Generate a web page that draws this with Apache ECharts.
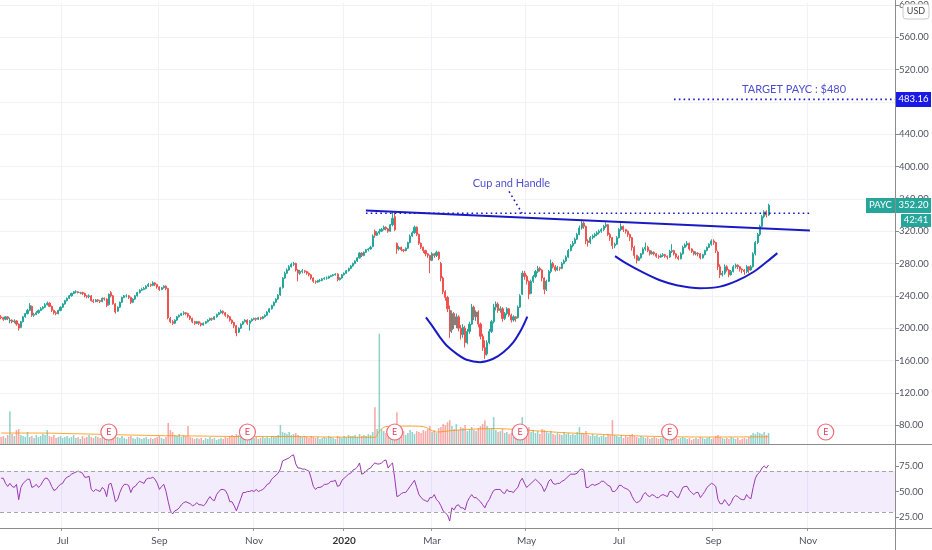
<!DOCTYPE html>
<html><head><meta charset="utf-8">
<script src="https://cdn.jsdelivr.net/npm/echarts@6/dist/echarts.min.js"></script>
<style>html,body{margin:0;padding:0;background:#fff}#c{width:932px;height:550px}</style>
</head><body><div id="c"></div>
<script>
// ---------- data ----------
const START_DATE = '2019-05-21';
const HOLIDAYS = ['2019-05-27','2019-07-04','2019-09-02','2019-11-28','2019-12-25','2020-01-01','2020-01-20','2020-02-17','2020-04-10','2020-05-25','2020-07-03','2020-09-07','2020-11-26','2020-12-25'];
const TOTAL_SLOTS = 407;
const MONTHS = ['Jan','Feb','Mar','Apr','May','Jun','Jul','Aug','Sep','Oct','Nov','Dec'];
const priceTicks = [80,120,160,200,240,280,320,360,400,440,480,520,560,600];
const rsiTicks = [25,50,75];

// [open, close, low, high]
const ohlc = [
[214,213,211,216],[213,211,209,214],[211,214,210,215],[214,212,210,215],[209,210,206,213],[210,208,206,211],[208,209,206,211],[209,205,203,210],[205,200,197,206],[201,208,200,209],
[208,214,207,215],[214,218,213,219],[218,222,217,224],[222,228,221,231],[227,216,214,228],[216,217,214,219],[217,219,216,221],[219,222,218,223],[222,224,221,226],[224,226,223,227],
[226,229,225,231],[229,231,228,233],[231,227,226,232],[227,222,220,228],[222,219,217,223],[219,218,216,221],[218,222,217,223],[222,226,221,227],[226,230,225,231],[230,234,229,235],
[234,237,233,238],[237,240,236,241],[240,243,239,244],[243,245,242,246],[245,245,243,247],[245,244,243,246],[244,244,242,245],[244,243,241,245],[243,240,238,244],[240,239,237,241],
[239,240,237,242],[240,234,233,241],[234,233,231,236],[233,235,232,236],[235,234,232,236],[234,233,231,235],[233,237,232,238],[237,236,234,238],[236,228,226,237],[229,242,228,243],
[244,240,238,246],[240,230,229,241],[230,220,218,231],[221,226,220,227],[226,232,225,233],[232,238,231,239],[238,240,237,241],[240,240,238,242],[240,238,236,241],[238,232,230,239],
[232,236,231,237],[236,240,235,241],[240,244,239,245],[244,247,243,248],[247,248,246,250],[248,249,247,251],[249,252,248,253],[252,254,251,256],[254,253,251,255],[253,256,252,258],
[256,254,252,257],[254,251,249,255],[251,248,246,252],[248,250,247,251],[250,252,249,253],[252,249,247,253],[249,213,211,250],[212,208,206,214],[208,206,204,210],[206,210,205,211],
[210,214,209,215],[214,216,213,217],[216,218,215,219],[218,219,216,221],[219,218,216,220],[218,215,213,219],[215,212,210,216],[212,208,206,213],[208,206,204,209],[206,208,205,209],
[208,206,204,209],[206,204,202,207],[204,206,203,207],[206,208,205,209],[208,210,207,211],[210,212,209,213],[212,211,209,213],[211,214,210,215],[214,217,213,218],[217,219,216,220],
[219,221,218,223],[221,219,217,222],[219,216,214,220],[216,214,212,217],[214,210,208,215],[210,207,205,211],[207,203,200,208],[203,194,190,204],[195,200,194,201],[200,205,199,206],
[205,208,204,209],[208,210,207,211],[210,206,204,211],[206,209,197,210],[209,211,208,212],[211,212,210,213],[212,211,209,213],[211,213,210,214],[213,212,210,214],[212,214,211,215],
[214,216,213,217],[216,220,215,221],[220,224,219,225],[224,228,223,229],[228,232,227,233],[232,236,231,237],[236,241,235,242],[241,250,240,251],[250,262,249,263],[262,268,261,270],
[268,272,267,274],[272,276,271,278],[276,279,275,281],[279,280,277,282],[280,272,270,281],[272,268,258,273],[268,270,266,272],[270,271,268,273],[271,270,268,272],[270,268,266,271],
[268,266,264,269],[266,262,260,267],[262,258,256,263],[258,257,255,259],[257,259,256,260],[259,259,257,261],[259,261,258,262],[261,262,260,263],[262,262,260,264],[262,264,261,265],
[264,265,263,266],[265,266,264,267],[266,267,265,268],[267,260,258,268],[260,262,259,263],[262,266,261,267],[266,268,265,269],[268,271,267,272],[271,274,270,275],[274,277,273,278],
[277,280,276,281],[280,283,279,284],[283,287,282,288],[287,293,286,294],[293,290,288,294],[290,294,289,295],[294,297,293,298],[297,298,295,299],[298,300,297,302],[301,314,300,316],
[320,315,312,322],[315,318,314,320],[318,320,316,323],[320,322,319,324],[322,325,321,327],[325,323,321,326],[323,320,318,324],[320,328,319,329],[328,336,326,345],[338,322,320,343],
[305,298,292,306],[298,300,296,302],[300,297,295,301],[297,296,294,298],[296,299,295,300],[299,306,298,307],[306,314,305,316],[314,318,313,320],[318,325,317,327],[325,316,314,326],
[316,305,303,317],[305,300,298,306],[300,296,293,301],[296,292,289,297],[292,290,287,293],[290,284,268,291],[284,292,283,294],[292,290,287,293],[290,294,288,296],[294,286,284,295],
[280,262,258,282],[262,245,242,264],[245,238,234,247],[238,224,220,240],[222,196,188,228],[198,218,194,222],[218,204,199,220],[204,214,200,218],[214,200,196,216],[200,192,186,204],
[192,201,188,205],[200,182,176,203],[182,196,180,199],[196,205,193,208],[205,226,204,230],[226,214,210,228],[214,220,209,222],[220,205,201,222],[205,190,186,207],[190,176,172,193],
[176,167,162,185],[168,182,166,185],[182,196,180,199],[196,208,194,210],[208,226,206,230],[226,230,222,233],[230,222,219,232],[222,224,219,227],[224,212,208,226],[212,218,210,220],
[218,224,216,226],[224,216,214,225],[216,210,207,218],[210,214,208,216],[214,212,208,215],[213,226,212,228],[226,240,225,242],[242,268,241,271],[268,264,260,271],[264,258,254,266],
[258,242,236,259],[243,258,242,260],[258,264,256,266],[264,270,262,272],[270,274,268,277],[274,272,270,276],[272,262,258,273],[262,248,242,263],[248,258,246,260],[258,270,257,272],
[270,280,268,285],[280,276,274,282],[276,272,270,278],[272,275,271,277],[275,274,271,276],[274,280,273,282],[280,283,279,285],[283,288,282,290],[288,296,287,298],[296,302,295,304],
[302,305,300,308],[305,310,304,312],[310,316,309,318],[316,324,315,327],[324,330,322,334],[330,326,323,332],[326,308,304,327],[308,306,301,310],[306,312,304,314],[312,314,310,316],
[314,316,312,318],[316,318,314,320],[318,320,316,322],[320,322,318,324],[322,326,320,328],[326,328,324,331],[328,316,314,329],[316,312,308,318],[312,302,298,313],[302,304,299,306],
[304,312,303,314],[312,322,311,324],[322,326,320,330],[326,322,319,327],[322,320,317,323],[320,316,313,321],[316,312,308,317],[312,300,296,313],[300,290,286,302],[290,284,280,291],
[284,287,283,289],[287,292,286,293],[292,298,291,300],[298,300,296,306],[300,296,294,302],[296,292,290,297],[292,294,291,296],[294,292,290,295],[292,289,287,293],[289,288,286,291],
[288,290,287,292],[290,291,288,293],[291,289,287,292],[289,288,285,290],[288,295,287,297],[295,296,293,304],[296,292,290,297],[292,288,286,293],[288,286,284,290],[286,292,285,294],
[292,300,291,302],[300,303,299,305],[303,305,301,308],[305,298,296,306],[298,295,293,299],[295,292,290,296],[292,293,290,295],[293,292,289,294],[292,287,285,293],[287,291,286,292],
[291,296,290,297],[296,300,295,301],[300,304,299,305],[304,308,302,310],[308,306,303,310],[306,296,293,307],[294,276,272,296],[276,266,262,279],[266,268,264,271],[268,276,266,279],
[276,272,270,278],[272,266,263,273],[266,270,265,272],[270,276,269,278],[276,278,274,280],[278,276,273,279],[276,273,270,277],[273,272,268,274],[272,270,266,273],[270,276,268,278],
[276,272,268,277],[272,276,271,278],[276,292,275,294],[292,306,290,308],[306,316,304,318],[316,326,314,328],[326,338,325,340],[338,344,336,346],[344,340,337,346],[340,352,339,354]
];

// volume, thousands of shares
const volume = [
280,320,240,360,1320,400,320,560,600,360, 320,280,480,280,320,240,360,280,320,400,
360,560,320,280,360,240,280,320,240,280, 320,240,280,360,240,280,200,320,240,280,
360,280,240,320,280,240,320,280,360,480, 400,360,440,280,240,320,240,200,280,320,
240,200,280,240,200,240,280,200,240,200, 240,280,320,240,200,280,840,560,480,360,
320,400,280,360,320,720,280,240,200,240, 200,240,160,240,200,280,200,240,160,200,
240,200,280,240,320,360,320,400,360,280, 320,360,480,400,320,240,280,200,240,280,
240,280,240,320,280,320,360,760,480,440, 400,480,360,400,440,360,320,280,320,280,
240,320,280,240,280,200,240,280,240,320, 280,240,200,320,280,240,320,280,360,320,
320,360,280,400,320,360,320,400,360,480, 1480,600,4440,600,520,440,640,560,560,680,
1280,480,400,520,360,440,560,480,400,520, 480,440,560,520,600,720,480,560,440,640,
680,800,760,880,960,720,600,800,560,680, 640,760,520,600,680,560,520,640,720,800,
960,720,600,640,1080,560,480,520,600,440, 480,400,440,520,480,560,640,1080,600,520,
680,480,560,440,520,400,600,560,480,440, 520,400,360,440,400,360,480,400,440,360,
400,360,480,680,440,400,520,360,320,400, 320,360,280,320,360,280,400,360,960,360,
320,280,360,240,320,280,360,400,320,280, 240,320,280,240,280,200,240,280,240,200,
240,280,200,240,440,320,280,240,200,240, 280,240,200,240,160,200,240,200,280,240,
200,240,280,200,240,320,360,280,240,200, 240,200,280,240,200,240,160,200,240,200,
280,360,440,400,480,440,400,480,360,440
];
const volMaIdx = [0,20,30,50,70,90,110,130,150,170,172,175,185,192,198,205,215,225,235,245,255,270,285,300,320,349];
const volMaVal = [440,440,420,380,340,320,300,300,280,270,520,700,720,700,480,540,600,620,580,520,460,400,340,300,280,290];

const rsi = [
63,63,58,55,58,55,54,57,42,54, 58,60,62,62,54,55,57,54,56,60,
63,63,60,55,51,52,55,57,58,62, 64,65,67,68,69,70,69,68,64,64,
65,52,50,52,51,50,54,52,45,57, 58,50,40,42,49,54,57,57,56,49,
54,55,58,60,59,58,62,63,63,64, 62,58,52,55,57,50,40,31,28,31,
32,34,37,39,40,39,38,36,37,39, 37,37,36,38,42,45,42,41,47,50,
52,52,51,47,40,40,36,31,37,43, 49,49,50,50,51,50,52,50,51,52,
54,57,58,62,64,66,68,72,80,81, 82,83,85,86,77,73,73,72,72,71,
70,63,55,52,54,54,55,57,57,58, 60,60,61,55,56,61,63,65,67,68,
71,72,74,78,67,68,70,72,73,76, 78,77,77,78,80,81,73,76,78,63,
45,46,48,49,49,52,55,58,61,54, 47,44,42,41,40,44,44,47,42,40,
36,31,29,27,21,34,32,36,37,34, 34,32,40,44,47,44,44,42,40,37,
34,39,42,47,51,52,52,52,49,48, 52,50,50,49,52,54,60,63,58,54,
56,58,60,62,60,58,55,50,54,60, 62,58,57,58,58,60,61,63,65,67,
67,67,68,71,72,71,54,54,56,57, 56,57,58,60,60,58,56,55,50,50,
52,56,56,54,53,52,50,45,41,39, 40,42,47,49,46,45,47,46,44,44,
46,47,46,45,50,50,48,45,44,49, 54,55,55,51,49,47,49,49,44,47,
50,54,56,58,57,55,42,38,38,42, 39,36,39,44,46,45,43,42,42,47,
44,43,54,63,67,69,73,75,73,76
];

const earningsDates = ['2019-07-31','2019-10-29','2020-02-05','2020-04-28','2020-08-04','2020-11-12'];

// chart drawings, as [bar index, price]
const resistanceLine = [[165.9,345.5],[367.8,320.9]];
const breakoutDotted = [[165.9,342.2],[367.8,342.2]];
const cupCurve = [[193.2,213.3],[196.5,201.0],[199.6,188.7],[202.6,178.5],[207.2,168.2],[211.7,160.9],[217.8,157.9],[223.8,162.1],[228.4,170.2],[232.9,182.5],[236.7,199.0],[239.3,214.2]];
const handleCurve = [[279.2,289.2],[284.5,279.8],[292.1,268.7],[299.6,259.3],[307.2,253.2],[317.8,249.5],[326.9,251.4],[334.5,258.5],[342.1,269.5],[348.2,282.2],[353.0,292.9]];
const leaderLine = [[231.0,369.2],[236.9,342.2]];
const targetPrice = 483.16;
const targetStart = 306;
const lastPrice = 352.20;
const cupLabel = {text:'Cup and Handle', at:[232.1,379.1]};
const targetLabel = {text:'TARGET PAYC : $480', at:[360.6,496.0]};

// ---------- build ----------
const dates = [];
(function(){
  let d = new Date(START_DATE + 'T00:00:00Z');
  while (dates.length < TOTAL_SLOTS) {
    const s = d.toISOString().slice(0,10);
    const w = d.getUTCDay();
    if (w !== 0 && w !== 6 && HOLIDAYS.indexOf(s) < 0) dates.push(s);
    d.setUTCDate(d.getUTCDate() + 1);
  }
})();
function isMonthLabel(i) {
  if (i <= 0) return false;
  const m = +dates[i].slice(5,7), pm = +dates[i-1].slice(5,7);
  return m !== pm && m % 2 === 1;
}
const FONT = 'Lato, "Open Sans", sans-serif';
const UP = '#26a69a', DOWN = '#ef5350', BLUE = '#1a1ac4', TEXTBLUE = '#2222c4';
const GRIDLINE = '#f0f2f7';

const volData = volume.map((v,i) => ({value: v, itemStyle: {color: ohlc[i][1] >= ohlc[i][0] ? 'rgba(38,166,154,0.5)' : 'rgba(239,83,80,0.5)'}}));
const volMa = volMaIdx.map((k,j) => [k, volMaVal[j]]);

const chart = echarts.init(document.getElementById('c'), null, {renderer:'canvas'});
const ANN = {type:'line', xAxisIndex:2, yAxisIndex:0, symbol:'none', silent:true, z:5, animation:false};
const HIDDEN = {axisLine:{show:false, onZero:false}, axisTick:{show:false}, axisLabel:{show:false}, splitLine:{show:false}};
chart.setOption({
  animation:false,
  backgroundColor:'#ffffff',
  textStyle:{fontFamily:FONT},
  grid:[{left:0, right:37, top:0, height:444}, {left:0, right:37, top:444, height:84}],
  xAxis:[
    {type:'category', gridIndex:0, data:dates, boundaryGap:true, axisLine:{show:false, onZero:false}, axisTick:{show:false}, axisLabel:{show:false},
     splitLine:{show:true, interval:isMonthLabel, lineStyle:{color:GRIDLINE}}},
    {type:'category', gridIndex:1, data:dates, boundaryGap:true, axisLine:{show:false, onZero:false},
     axisTick:{show:true, interval:isMonthLabel, length:3, lineStyle:{color:'#9a9a9a'}},
     splitLine:{show:true, interval:isMonthLabel, lineStyle:{color:GRIDLINE}},
     axisLabel:{interval:isMonthLabel, color:'#50535e', fontSize:10, fontFamily:FONT, margin:8,
       formatter:function(v){ const m = +v.slice(5,7); return m === 1 ? '{y|' + v.slice(0,4) + '}' : MONTHS[m-1]; },
       rich:{y:{fontWeight:'bold', color:'#333', fontSize:10, fontFamily:FONT}}}},
    Object.assign({type:'value', gridIndex:0, min:-0.5, max:TOTAL_SLOTS-0.5, show:false}, HIDDEN)
  ],
  yAxis:[
    {type:'value', gridIndex:0, position:'right', min:56.62, max:603.08,
     axisLine:{show:false, onZero:false},
     axisTick:{show:true, customValues:priceTicks, length:4, lineStyle:{color:'#8a8a8a'}},
     axisLabel:{customValues:priceTicks, color:'#50535e', fontSize:9.5, fontFamily:FONT, margin:4, formatter:v => v.toFixed(2)},
     splitLine:{show:true, lineStyle:{color:GRIDLINE}}},
    Object.assign({type:'value', gridIndex:0, position:'right', min:0, max:17760, show:false}, HIDDEN),
    {type:'value', gridIndex:1, position:'right', min:14.2, max:96.6,
     axisLine:{show:false, onZero:false},
     axisTick:{show:true, customValues:rsiTicks, length:4, lineStyle:{color:'#8a8a8a'}},
     axisLabel:{customValues:rsiTicks, color:'#50535e', fontSize:9.5, fontFamily:FONT, margin:4, formatter:v => v.toFixed(2)},
     splitLine:{show:false}}
  ],
  series:[
    {type:'bar', name:'Volume', xAxisIndex:0, yAxisIndex:1, data:volData, barWidth:'70%', z:1, silent:true},
    {type:'line', name:'VolMA', xAxisIndex:2, yAxisIndex:1, data:volMa, symbol:'none', smooth:0.3, lineStyle:{color:'rgba(255,145,0,0.8)', width:1}, z:2, silent:true},
    {type:'candlestick', name:'PAYC', xAxisIndex:0, yAxisIndex:0, data:ohlc, barWidth:'72%', z:3,
     itemStyle:{color:UP, color0:DOWN, borderColor:UP, borderColor0:DOWN, borderWidth:1}},
    Object.assign({}, ANN, {data:resistanceLine, lineStyle:{color:BLUE, width:2}}),
    Object.assign({}, ANN, {data:breakoutDotted, lineStyle:{color:BLUE, width:1.6, type:[1.6,3.2]}}),
    Object.assign({}, ANN, {data:cupCurve, smooth:0.3, lineStyle:{color:BLUE, width:2}}),
    Object.assign({}, ANN, {data:handleCurve, smooth:0.3, lineStyle:{color:BLUE, width:2}}),
    Object.assign({}, ANN, {data:leaderLine, lineStyle:{color:BLUE, width:1.6, type:[1.6,3.2]}}),
    Object.assign({}, ANN, {data:[[targetStart,targetPrice],[TOTAL_SLOTS-0.5,targetPrice]], lineStyle:{color:BLUE, width:1.6, type:[1.6,3.2]}}),
    {type:'scatter', xAxisIndex:2, yAxisIndex:0, symbolSize:0, silent:true, z:6,
     data:[{name:cupLabel.text, value:cupLabel.at},{name:targetLabel.text, value:targetLabel.at}],
     label:{show:true, position:'inside', formatter:'{b}', color:TEXTBLUE, fontSize:11, fontFamily:FONT}},
    {type:'line', name:'RSI', xAxisIndex:1, yAxisIndex:2, data:rsi, symbol:'none', lineStyle:{color:'#9b37b3', width:1}, z:3, silent:true,
     markArea:{silent:true, itemStyle:{color:'rgba(150,100,235,0.12)'}, data:[[{yAxis:30},{yAxis:70}]]},
     markLine:{silent:true, symbol:'none', label:{show:false}, lineStyle:{color:'#a6a6a6', type:[4,3], width:1}, data:[{yAxis:70},{yAxis:30}]}}
  ]
});

// ---------- overlays positioned via the chart's scales ----------
const ANN_SERIES = 3;
function toPx(i, p){ return chart.convertToPixel({seriesIndex:ANN_SERIES}, [i, p]); }
const axisX = toPx(TOTAL_SLOTS-0.5, 100)[0];
const g = [];
g.push({type:'line', shape:{x1:0, y1:444.5, x2:932, y2:444.5}, style:{stroke:'#8c8c8c', lineWidth:1}, z:50});
g.push({type:'line', shape:{x1:0, y1:528.5, x2:932, y2:528.5}, style:{stroke:'#8c8c8c', lineWidth:1}, z:50});
g.push({type:'line', shape:{x1:axisX+0.5, y1:0, x2:axisX+0.5, y2:550}, style:{stroke:'#8c8c8c', lineWidth:1}, z:50});
function tag(x, yc, w, h, text, bg, fg){
  g.push({type:'rect', shape:{x:x, y:Math.round(yc - h/2), width:w, height:h}, style:{fill:bg}, z:60});
  g.push({type:'text', x:x + w/2, y:Math.round(yc), style:{text:text, fill:fg, font:'9.5px ' + FONT, align:'center', verticalAlign:'middle'}, z:61});
}
const yT = toPx(0, targetPrice)[1];
tag(axisX+1, yT, 35, 15, targetPrice.toFixed(2), '#1a1ae6', '#ffffff');
const yL = toPx(0, lastPrice)[1];
tag(axisX+1, yL, 35, 15, lastPrice.toFixed(2), UP, '#ffffff');
tag(axisX-29, yL, 29, 15, 'PAYC', UP, '#ffffff');
tag(axisX+6, yL+15, 30, 13, '42:41', UP, '#ffffff');
// USD box
g.push({type:'rect', shape:{x:903, y:4, width:26, height:15, r:3}, style:{fill:'#ffffff', stroke:'#c9c9c9', lineWidth:1}, z:60});
g.push({type:'text', x:916, y:11.5, style:{text:'USD', fill:'#444', font:'9px ' + FONT, align:'center', verticalAlign:'middle'}, z:61});
// earnings markers
earningsDates.forEach(ds => {
  const i = dates.indexOf(ds);
  if (i < 0) return;
  const x = toPx(i, 100)[0];
  g.push({type:'circle', shape:{cx:x, cy:432, r:8}, style:{fill:'#ffffff', stroke:'#ef6a78', lineWidth:1.2}, z:40});
  g.push({type:'text', x:x, y:432.5, style:{text:'E', fill:'#e0405a', font:'9px ' + FONT, align:'center', verticalAlign:'middle'}, z:41});
});
chart.setOption({graphic:g});
</script></body></html>
